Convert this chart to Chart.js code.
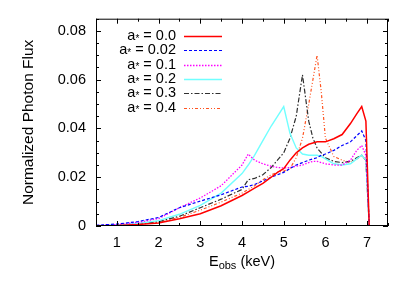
<!DOCTYPE html>
<html>
<head>
<meta charset="utf-8">
<script src="https://cdn.jsdelivr.net/npm/chart.js@4"></script>
<style>
  html, body { margin: 0; padding: 0; background: #fff; }
  #wrap { width: 409px; height: 286px; }
</style>
</head>
<body>
<div id="wrap"><canvas id="myChart"></canvas></div>
<script>
// energies (keV), shared by all curves
const energie = [0.5, 1.0, 1.5, 2.0, 2.5, 3.0, 3.5, 4.0, 4.15, 4.3, 4.5, 4.7, 4.85, 5.0, 5.15, 5.3, 5.45, 5.6, 5.7, 5.8, 5.9, 6.0, 6.2, 6.4, 6.6, 6.75, 6.87, 6.97, 7.05, 7.5];

const flux00 = [0, 0.0002, 0.0006, 0.0012, 0.003, 0.005, 0.0083, 0.0125, 0.014, 0.0155, 0.0175, 0.02, 0.022, 0.0235, 0.027, 0.03, 0.032, 0.0335, 0.034, 0.0345, 0.0345, 0.0345, 0.0358, 0.0375, 0.042, 0.046, 0.049, 0.043, 0, 0];
const flux002 = [0.0003, 0.0008, 0.0018, 0.0035, 0.0075, 0.0102, 0.0128, 0.016, 0.0163, 0.017, 0.0185, 0.02, 0.021, 0.022, 0.0235, 0.025, 0.026, 0.027, 0.0275, 0.028, 0.029, 0.0295, 0.031, 0.033, 0.0345, 0.037, 0.039, 0.035, 0, 0];
const flux01 = [0.0002, 0.0006, 0.0015, 0.003, 0.0075, 0.0115, 0.0165, 0.025, 0.0295, 0.027, 0.0255, 0.0245, 0.024, 0.0238, 0.024, 0.0245, 0.025, 0.026, 0.0265, 0.0265, 0.026, 0.0255, 0.025, 0.025, 0.027, 0.031, 0.033, 0.029, 0, 0];
const flux02 = [0.0001, 0.0004, 0.001, 0.0022, 0.0048, 0.0085, 0.0135, 0.0215, 0.025, 0.029, 0.035, 0.041, 0.045, 0.049, 0.038, 0.032, 0.0295, 0.029, 0.029, 0.029, 0.0285, 0.0275, 0.0255, 0.025, 0.0255, 0.0275, 0.029, 0.027, 0, 0];
const flux03 = [0.0001, 0.0003, 0.0008, 0.0018, 0.004, 0.0075, 0.011, 0.015, 0.019, 0.0195, 0.021, 0.024, 0.027, 0.03, 0.036, 0.045, 0.062, 0.043, 0.036, 0.032, 0.03, 0.028, 0.0265, 0.026, 0.0265, 0.028, 0.029, 0.027, 0, 0];
const flux04 = [0.0001, 0.0002, 0.0006, 0.0015, 0.0035, 0.0065, 0.0098, 0.0135, 0.015, 0.0165, 0.019, 0.021, 0.022, 0.0225, 0.0235, 0.028, 0.036, 0.05, 0.06, 0.07, 0.055, 0.036, 0.0285, 0.027, 0.026, 0.0275, 0.029, 0.027, 0, 0];

const spinLabels = ['0.0', '0.02', '0.1', '0.2', '0.3', '0.4'];
const xTicks = [1, 2, 3, 4, 5, 6, 7];
const yTicks = [0, 0.02, 0.04, 0.06, 0.08];

const police = 'Liberation Sans, Arial, Helvetica, sans-serif';
const taille = 14.5;

function pts(vals) {
  return energie.map((e, i) => ({x: e, y: vals[i]}));
}

const series = [
  {vals: flux00, color: '#ff0000', dash: [], width: 1.5},
  {vals: flux002, color: '#0000ff', dash: [3, 2], width: 1.2},
  {vals: flux01, color: '#ff00ff', dash: [1.5, 1.5], width: 1.3},
  {vals: flux02, color: '#70ffff', dash: [], width: 1.4},
  {vals: flux03, color: '#303030', dash: [5, 2, 1.5, 2], width: 1.2},
  {vals: flux04, color: '#ff5522', dash: [3, 2, 1, 2, 1, 2], width: 1.2}
];

// ticks inward on all 4 sides + frame + custom x title + legend
const decor = {
  id: 'decor',
  afterDraw(chart) {
    const ctx = chart.ctx;
    const a = chart.chartArea;
    const xs = chart.scales.x, ys = chart.scales.y;
    ctx.save();
    ctx.strokeStyle = '#000';
    ctx.lineWidth = 1;
    ctx.setLineDash([]);
    ctx.strokeRect(a.left + 0.5, a.top + 0.5, a.right - a.left - 1, a.bottom - a.top - 1);
    ctx.beginPath();
    for (let v = 0.5; v <= 7.5001; v += 0.5) {
      const px = Math.round(xs.getPixelForValue(v)) + 0.5;
      const len = Number.isInteger(v) ? 5 : 3;
      ctx.moveTo(px, a.bottom); ctx.lineTo(px, a.bottom - len);
      ctx.moveTo(px, a.top); ctx.lineTo(px, a.top + len);
    }
    for (let k = 0; k <= 17; k++) {
      const v = k * 0.005;
      const py = Math.round(ys.getPixelForValue(v)) + 0.5;
      const len = (k % 4 === 0) ? 5 : 3;
      ctx.moveTo(a.left, py); ctx.lineTo(a.left + len, py);
      ctx.moveTo(a.right, py); ctx.lineTo(a.right - len, py);
    }
    ctx.stroke();

    // x title with subscript
    ctx.fillStyle = '#000';
    ctx.textBaseline = 'alphabetic';
    const big = taille + 'px ' + police, small = '11px ' + police;
    ctx.font = big;
    const wE = ctx.measureText('E').width;
    const wR = ctx.measureText(' (keV)').width;
    ctx.font = small;
    const wS = ctx.measureText('obs').width;
    let x0 = (a.left + a.right) / 2 - (wE + wS + wR) / 2;
    const base = 265.5;
    ctx.font = big; ctx.textAlign = 'left';
    ctx.fillText('E', x0, base);
    ctx.font = small;
    ctx.fillText('obs', x0 + wE, base + 3);
    ctx.font = big;
    ctx.fillText(' (keV)', x0 + wE + wS, base);

    // legend
    chart.data.datasets.forEach((ds, i) => {
      const y = 36 + i * 14.3;
      ctx.font = big;
      ctx.textAlign = 'right';
      ctx.textBaseline = 'middle';
      const rest = ' = ' + spinLabels[i];
      const wRest = ctx.measureText(rest).width;
      ctx.fillText(rest, 176, y);
      ctx.font = '10px ' + police;
      const wStar = ctx.measureText('*').width;
      ctx.fillText('*', 176 - wRest, y + 3);
      ctx.font = big;
      ctx.fillText('a', 176 - wRest - wStar, y);
      ctx.beginPath();
      ctx.strokeStyle = ds.borderColor;
      ctx.lineWidth = ds.borderWidth;
      ctx.setLineDash(ds.borderDash || []);
      ctx.moveTo(184, Math.round(y) + 0.5);
      ctx.lineTo(222, Math.round(y) + 0.5);
      ctx.stroke();
    });
    ctx.restore();
  }
};

const ctx1 = document.getElementById('myChart');
const spectre = new Chart(ctx1, {
  type: 'line',
  data: {
    datasets: series.map((s, i) => ({
      label: 'a* = ' + spinLabels[i],
      data: pts(s.vals),
      borderColor: s.color,
      borderDash: s.dash,
      borderWidth: s.width,
      pointRadius: 0,
      tension: 0,
      fill: false
    }))
  },
  options: {
    responsive: true,
    maintainAspectRatio: false,
    animation: false,
    devicePixelRatio: 1,
    layout: {padding: {left: 0, right: 21, top: 17, bottom: 0}},
    plugins: {legend: {display: false}, tooltip: {enabled: false}},
    scales: {
      x: {
        type: 'linear',
        min: 0.5,
        max: 7.5,
        afterBuildTicks: (sc) => { sc.ticks = xTicks.map(v => ({value: v})); },
        afterFit: (sc) => { sc.height = 60; },
        grid: {display: false, drawTicks: false},
        border: {display: false},
        ticks: {padding: 8, color: '#000', font: {family: police, size: taille}, maxRotation: 0}
      },
      y: {
        min: 0,
        max: 0.085,
        afterBuildTicks: (sc) => { sc.ticks = yTicks.map(v => ({value: v})); },
        afterFit: (sc) => { sc.width = 96; },
        grid: {display: false, drawTicks: false},
        border: {display: false},
        ticks: {padding: 10, color: '#000', font: {family: police, size: taille},
          callback: (v) => String(v)},
        title: {display: true, text: 'Normalized Photon Flux', color: '#000',
          font: {family: police, size: 15.5}, padding: {top: 19, bottom: 0}}
      }
    }
  },
  plugins: [decor]
});
</script>
</body>
</html>
